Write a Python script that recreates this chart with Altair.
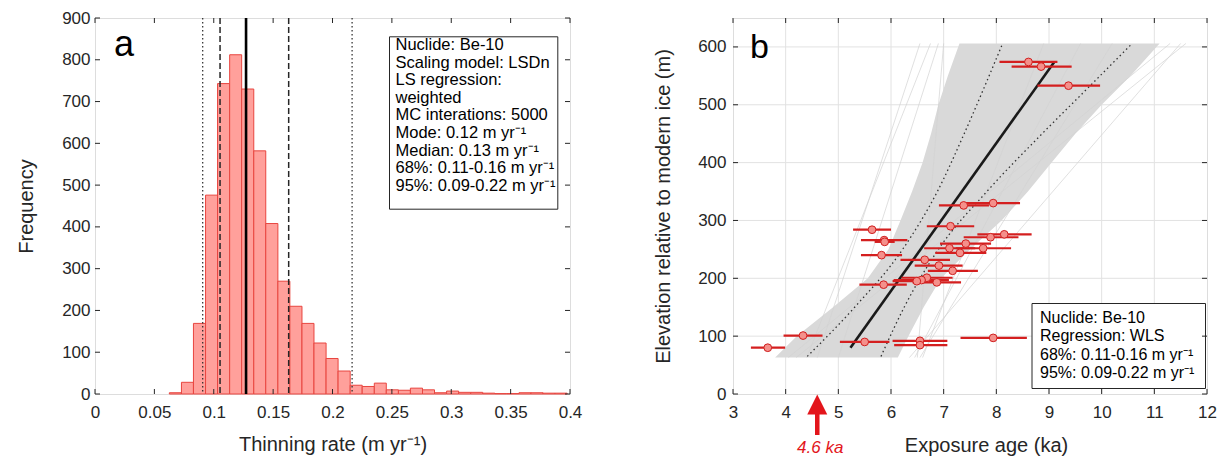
import altair as alt
import pandas as pd

FONT = "Liberation Sans"
FRAME = "#262626"

# ---------------- panel a : Monte-Carlo thinning-rate histogram ----------------
bin_left = [0.0626, 0.0728, 0.0829, 0.0931, 0.1032, 0.1134, 0.1235, 0.1337, 0.1438,
            0.1540, 0.1641, 0.1743, 0.1844, 0.1946, 0.2047, 0.2149, 0.2250, 0.2352,
            0.2453, 0.2555, 0.2656, 0.2758, 0.2859, 0.2961, 0.3062, 0.3164, 0.3265,
            0.3367, 0.3468, 0.3570, 0.3671, 0.3773, 0.3874]
bin_right = bin_left[1:] + [0.3976]
counts = [3, 28, 169, 476, 743, 812, 730, 582, 408, 270, 210, 169, 122, 85, 55, 21, 18,
          26, 10, 9, 14, 10, 3, 7, 4, 4, 2, 1, 1, 3, 3, 2, 2]
rate_ticks = [0, 0.05, 0.1, 0.15, 0.2, 0.25, 0.3, 0.35, 0.4]
freq_ticks = [0, 100, 200, 300, 400, 500, 600, 700, 800, 900]
ci95_rate = [0.0907, 0.2165]
ci68_rate = [0.1053, 0.1631]
median_rate = [0.1272]
legend_a = ["Nuclide: Be-10", "Scaling model: LSDn", "LS regression:", "weighted",
            "MC interations: 5000", "Mode: 0.12 m yr\u207b\u00b9", "Median: 0.13 m yr\u207b\u00b9",
            "68%: 0.11-0.16 m yr\u207b\u00b9", "95%: 0.09-0.22 m yr\u207b\u00b9"]

# ---------------- panel b : exposure age vs elevation ----------------
ages = [8.61, 8.85, 9.37, 7.94, 7.38, 5.64, 7.13, 5.87, 5.88, 8.15, 7.89, 7.42, 7.11, 7.75,
        7.31, 5.82, 6.64, 6.91, 7.17, 6.68, 6.58, 6.49, 6.87, 5.86, 4.33, 3.66, 5.50, 6.55,
        6.55, 7.94]
elevs = [574, 566, 533, 330, 326, 284, 290, 266, 263, 276, 271, 260, 252, 252, 244, 240,
         232, 222, 213, 201, 197, 195, 193, 189, 101, 80, 90, 92, 84.5, 97]
age_lo = [8.06, 8.29, 8.78, 7.38, 6.91, 5.28, 6.68, 5.43, 5.69, 7.64, 7.38, 6.93, 6.63, 7.23,
          6.84, 5.43, 6.18, 6.45, 6.70, 6.20, 6.05, 6.03, 6.41, 5.40, 3.96, 3.34, 5.03, 6.03,
          6.06, 7.32]
age_hi = [9.16, 9.43, 9.97, 8.45, 7.86, 6.00, 7.58, 6.31, 6.07, 8.67, 8.42, 7.90, 7.60, 8.28,
          7.81, 6.21, 7.12, 7.36, 7.65, 7.17, 7.10, 6.94, 7.33, 6.30, 4.70, 3.99, 5.97, 7.07,
          7.07, 8.58]
reg_age = [5.23, 9.10]
reg_elev = [80, 574]
conf_elev = [65, 150, 250, 350, 450, 530, 606]
conf_left = [4.41, 5.31, 6.22, 6.88, 7.39, 7.77, 8.12]
conf_right = [5.81, 6.25, 6.90, 7.82, 8.87, 9.75, 10.58]
env_elev = [63, 100, 150, 200, 250, 300, 350, 400, 450, 500, 550, 606]
env_left = [3.80, 4.21, 4.90, 5.56, 5.95, 6.18, 6.40, 6.60, 6.76, 6.90, 7.08, 7.30]
env_right = [6.13, 6.33, 6.62, 6.95, 7.50, 8.10, 8.60, 9.05, 9.50, 10.00, 10.55, 11.10]
stray_bottom = [4.60, 5.00, 4.40, 6.55, 6.45, 6.35, 4.20, 6.60, 4.05, 6.50]
stray_top = [6.55, 6.90, 6.75, 10.20, 9.60, 11.50, 11.60, 8.90, 11.30, 7.00]
stray_elev = [63, 606]
age_ticks = [3, 4, 5, 6, 7, 8, 9, 10, 11, 12]
elev_ticks = [0, 100, 200, 300, 400, 500, 600]
grid_age = [4, 5, 6, 7, 8, 9, 10, 11]
grid_elev = [100, 200, 300, 400, 500, 600]
legend_b = ["Nuclide: Be-10", "Regression: WLS", "68%: 0.11-0.16 m yr\u207b\u00b9",
            "95%: 0.09-0.22 m yr\u207b\u00b9"]
marker_age = [4.6]
marker_text = "4.6 ka"

W1, H1 = 475, 376
W2, H2 = 474, 376
one = pd.DataFrame({"k": [0]})

axis_common = dict(domain=False, ticks=False, tickSize=0, grid=False, labelFlush=False,
                   labelFont=FONT, labelFontSize=17, labelColor=FRAME,
                   titleFont=FONT, titleFontSize=20, titleFontWeight="normal",
                   titleColor=FRAME)

xa = alt.Scale(domain=[0, 0.4], nice=False, zero=False)
ya = alt.Scale(domain=[0, 900], nice=False)
AXa = alt.Axis(values=rate_ticks, format="~g", title="Thinning rate (m yr\u207b\u00b9)",
               labelPadding=10, titlePadding=14, **axis_common)
AYa = alt.Axis(values=freq_ticks, format="d", title="Frequency", labelPadding=5,
               titlePadding=25, **axis_common)

xb = alt.Scale(domain=[3, 12], nice=False, zero=False)
yb = alt.Scale(domain=[0, 650], nice=False)
AXb = alt.Axis(values=age_ticks, format="d", title="Exposure age (ka)",
               labelPadding=10, titlePadding=15, titleX=253, **axis_common)
AYb = alt.Axis(values=elev_ticks, format="d", title="Elevation relative to modern ice (m)",
               labelPadding=7, titlePadding=24, **axis_common)


def frame_ticks(xvals, yvals, xs, ys, ax, ay, w, h, L=5):
    dx = pd.DataFrame({"tx": xvals})
    dy = pd.DataFrame({"ty": yvals})
    X = alt.X("tx:Q", scale=xs, axis=ax)
    Y = alt.Y("ty:Q", scale=ys, axis=ay)
    st = dict(color=FRAME, strokeWidth=1)
    return [
        alt.Chart(dx).mark_rule(**st).encode(x=X, y=alt.value(h), y2=alt.value(h - L)),
        alt.Chart(dx).mark_rule(**st).encode(x=X, y=alt.value(0), y2=alt.value(L)),
        alt.Chart(dy).mark_rule(**st).encode(y=Y, x=alt.value(0), x2=alt.value(L)),
        alt.Chart(dy).mark_rule(**st).encode(y=Y, x=alt.value(w - L), x2=alt.value(w)),
    ]


# ---------------- build panel a ----------------
hist = pd.DataFrame({"x0": bin_left, "x1": bin_right, "n": counts})
bars = alt.Chart(hist).mark_rect(fill="#ffa09b", stroke="#e8453f", strokeWidth=1,
                                 opacity=1).encode(
    x=alt.X("x0:Q", scale=xa, axis=AXa),
    x2="x1:Q",
    y=alt.Y("n:Q", scale=ya, axis=AYa),
    y2=alt.datum(0),
)


def vlines(vals, **kw):
    return alt.Chart(pd.DataFrame({"v": vals})).mark_rule(**kw).encode(
        x=alt.X("v:Q", scale=xa, axis=AXa))


l95 = vlines(ci95_rate, color=FRAME, strokeWidth=1.2, strokeDash=[1.5, 2.5])
l68 = vlines(ci68_rate, color=FRAME, strokeWidth=1.5, strokeDash=[6, 3])
lmed = vlines(median_rate, color="#000000", strokeWidth=2.6)

box_a = alt.Chart(one).mark_rect(fill="white", stroke=FRAME, strokeWidth=1).encode(
    x=alt.value(294.5), x2=alt.value(462.8), y=alt.value(18.8), y2=alt.value(191.2))
text_a = alt.Chart(one).mark_text(text=legend_a, align="left", baseline="alphabetic",
                                  font=FONT, fontSize=16.5, lineHeight=17.6,
                                  color="#000000").encode(
    x=alt.value(300.5), y=alt.value(32))
label_a = alt.Chart(one).mark_text(text="a", align="left", baseline="alphabetic",
                                   font=FONT, fontSize=36, color="#000000").encode(
    x=alt.value(19), y=alt.value(38))

panel_a = alt.layer(bars, l95, l68, lmed, box_a, text_a, label_a,
                    *frame_ticks(rate_ticks, freq_ticks, xa, ya, AXa, AYa, W1, H1)).properties(
    width=W1, height=H1)

# ---------------- build panel b ----------------
gx = alt.Chart(pd.DataFrame({"g": grid_age})).mark_rule(color="#e2e2e2", strokeWidth=1).encode(
    x=alt.X("g:Q", scale=xb, axis=AXb))
gy = alt.Chart(pd.DataFrame({"g": grid_elev})).mark_rule(color="#e2e2e2", strokeWidth=1).encode(
    y=alt.Y("g:Q", scale=yb, axis=AYb))

env = pd.DataFrame({"e": env_elev, "l": env_left, "r": env_right})
band = alt.Chart(env).mark_area(orient="horizontal", color="#d9d9d9", opacity=1).encode(
    y=alt.Y("e:Q", scale=yb, axis=AYb),
    x=alt.X("l:Q", scale=xb, axis=AXb),
    x2="r:Q",
)

stray_rows = []
for i, (b0, t0) in enumerate(zip(stray_bottom, stray_top)):
    stray_rows.append({"id": i, "a": b0, "e": stray_elev[0]})
    stray_rows.append({"id": i, "a": t0, "e": stray_elev[1]})
stray = alt.Chart(pd.DataFrame(stray_rows)).mark_line(color="#d3d3d3", strokeWidth=0.7).encode(
    x=alt.X("a:Q", scale=xb, axis=AXb), y=alt.Y("e:Q", scale=yb, axis=AYb),
    detail="id:N", order="e:Q")

conf_rows = ([{"side": "L", "a": a, "e": e} for a, e in zip(conf_left, conf_elev)] +
             [{"side": "R", "a": a, "e": e} for a, e in zip(conf_right, conf_elev)])
conf = alt.Chart(pd.DataFrame(conf_rows)).mark_line(
    color="#333333", strokeWidth=1.3, strokeDash=[1.5, 3], interpolate="monotone").encode(
    x=alt.X("a:Q", scale=xb, axis=AXb), y=alt.Y("e:Q", scale=yb, axis=AYb),
    detail="side:N", order="e:Q")

reg = alt.Chart(pd.DataFrame({"a": reg_age, "e": reg_elev})).mark_line(
    color="#1a1a1a", strokeWidth=2.6).encode(
    x=alt.X("a:Q", scale=xb, axis=AXb), y=alt.Y("e:Q", scale=yb, axis=AYb))

samples = pd.DataFrame({"age": ages, "elev": elevs, "lo": age_lo, "hi": age_hi})
ebars = alt.Chart(samples).mark_rule(color="#d41f1f", strokeWidth=2.2).encode(
    x=alt.X("lo:Q", scale=xb, axis=AXb), x2="hi:Q",
    y=alt.Y("elev:Q", scale=yb, axis=AYb))
pts = alt.Chart(samples).mark_circle(size=60, color="#f4908b", stroke="#d01f1f",
                                      strokeWidth=1, opacity=1).encode(
    x=alt.X("age:Q", scale=xb, axis=AXb), y=alt.Y("elev:Q", scale=yb, axis=AYb))

box_b = alt.Chart(one).mark_rect(fill="white", stroke=FRAME, strokeWidth=1).encode(
    x=alt.value(299), x2=alt.value(472.5), y=alt.value(285.5), y2=alt.value(370.5))
text_b = alt.Chart(one).mark_text(text=legend_b, align="left", baseline="alphabetic",
                                  font=FONT, fontSize=16, lineHeight=18.3,
                                  color="#000000").encode(
    x=alt.value(307), y=alt.value(305))
label_b = alt.Chart(one).mark_text(text="b", align="left", baseline="alphabetic",
                                   font=FONT, fontSize=34, color="#000000").encode(
    x=alt.value(17), y=alt.value(40))

mk = pd.DataFrame({"a": marker_age})
shaft = alt.Chart(mk).mark_rule(color="#e3151b", strokeWidth=4.5).encode(
    x=alt.X("a:Q", scale=xb, axis=AXb), y=alt.value(394), y2=alt.value(417))
head = alt.Chart(mk).mark_point(shape="M0,-1L-1,1L1,1Z", size=400, filled=True,
                                color="#e3151b", opacity=1).encode(
    x=alt.X("a:Q", scale=xb, axis=AXb), y=alt.value(386.5))
mtext = alt.Chart(mk).mark_text(text=marker_text, font=FONT, fontSize=17, fontStyle="italic",
                                color="#e3151b", align="center", baseline="middle", dx=3).encode(
    x=alt.X("a:Q", scale=xb, axis=AXb), y=alt.value(430))

panel_b = alt.layer(gx, gy, band, stray, conf, reg, ebars, pts, box_b, text_b, label_b,
                    shaft, head, mtext,
                    *frame_ticks(age_ticks, elev_ticks, xb, yb, AXb, AYb, W2, H2)).properties(
    width=W2, height=H2)

chart = alt.hconcat(panel_a, panel_b, spacing=70).properties(
    padding={"left": 8, "top": 0, "right": 0, "bottom": 0}
).configure_view(stroke=FRAME, strokeWidth=1).configure(background="white")

chart.save("out.html", embed_options={"renderer": "svg", "actions": False})
